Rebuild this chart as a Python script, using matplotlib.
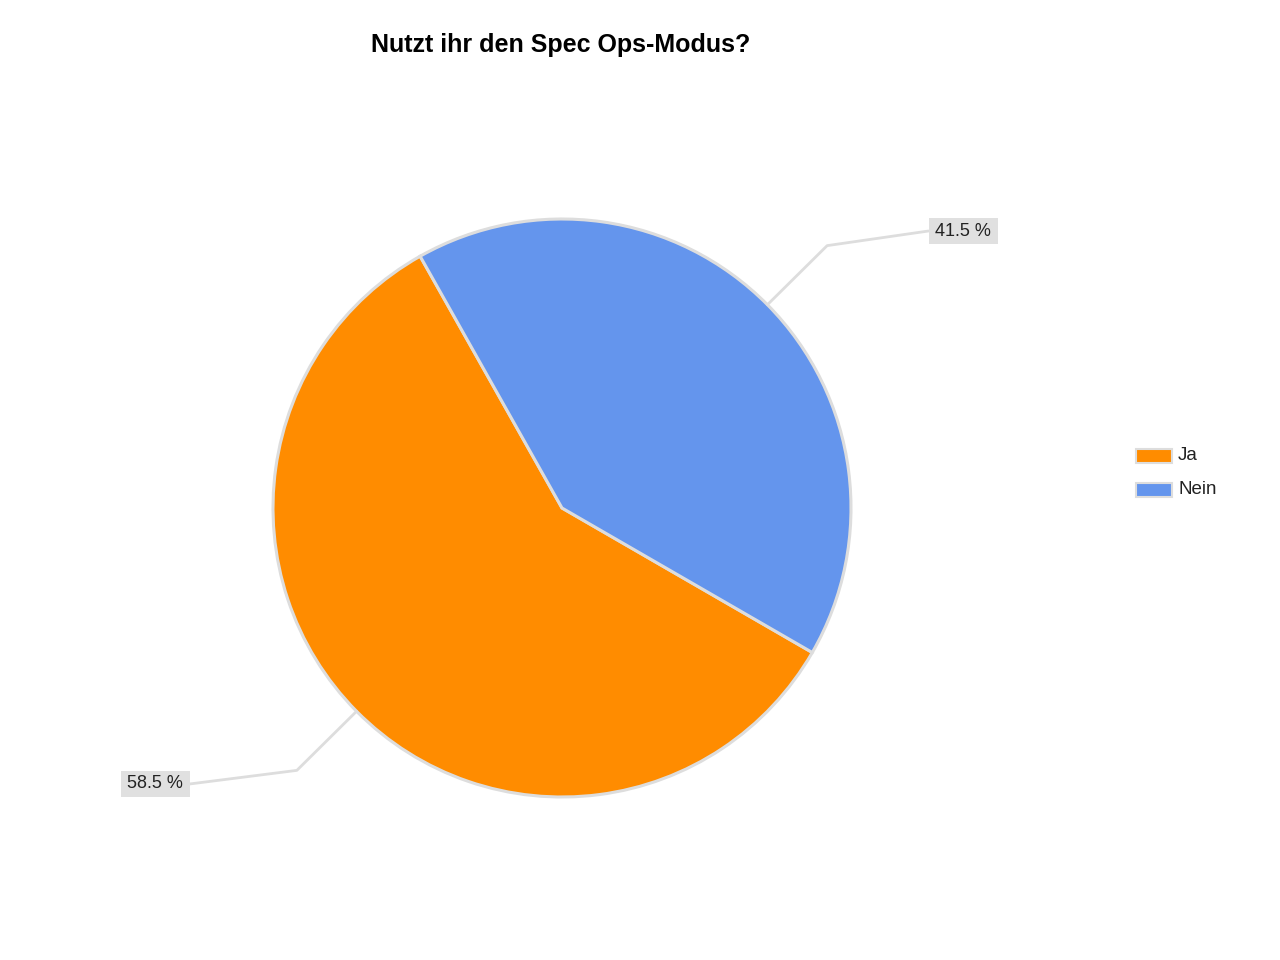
import numpy as np
import matplotlib.pyplot as plt
from matplotlib.patches import Rectangle

plt.rcParams['font.family'] = ['Liberation Sans', 'DejaVu Sans']

title = "Nutzt ihr den Spec Ops-Modus?"
categories = ["Ja", "Nein"]
shares = [58.5, 41.5]
colors = ["#ff8c00", "#6495ed"]

fig = plt.figure(figsize=(12.8, 9.6), dpi=100)
ax = fig.add_axes([0, 0, 1, 1])

cx, cy, r = 562, 960 - 508, 289
start = 119.4
wedges, _ = ax.pie(shares, colors=colors, startangle=start, counterclock=True,
                   center=(cx, cy), radius=r, frame=True,
                   wedgeprops=dict(edgecolor="#dddddd", linewidth=2.2))
ax.set_xlim(0, 1280)
ax.set_ylim(0, 960)
ax.set_aspect('equal')
ax.axis('off')

# label boxes (pixel positions of box centers)
label_pos = {"Ja": (155, 960 - 784), "Nein": (963, 960 - 231)}
box_w, box_h = 69, 26

for w, cat, val in zip(wedges, categories, shares):
    mid = np.deg2rad((w.theta1 + w.theta2) / 2)
    ex, ey = cx + r * np.cos(mid), cy + r * np.sin(mid)
    kx, ky = cx + (r + 84) * np.cos(mid), cy + (r + 84) * np.sin(mid)
    lx, ly = label_pos[cat]
    side = 1 if np.cos(mid) > 0 else -1
    bx = lx - side * box_w / 2
    ax.plot([ex, kx, bx], [ey, ky, ly], color="#dddddd", lw=2, zorder=1,
            solid_capstyle='round')
    ax.add_patch(Rectangle((lx - box_w / 2, ly - box_h / 2), box_w, box_h,
                           facecolor="#e0e0e0", edgecolor="none", zorder=2))
    ax.text(lx, ly, f"{val} %", ha='center', va='center', fontsize=13,
            color="#222222", zorder=3)

ax.text(561, 960 - 45, title, ha='center', va='center', fontsize=18,
        fontweight='bold', color="#000000")

# legend
for i, (cat, col) in enumerate(zip(categories, colors)):
    y = 960 - (456 + i * 34)
    ax.add_patch(Rectangle((1136, y - 7), 36, 14, facecolor=col,
                           edgecolor="#dddddd", linewidth=1.5))
    ax.text(1178, y, cat, ha='left', va='center', fontsize=13.5, color="#222222")

fig.savefig("out.png", dpi=100)
